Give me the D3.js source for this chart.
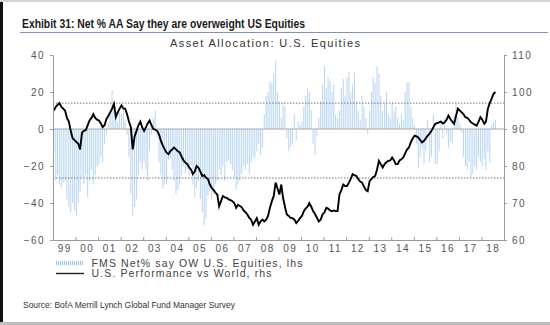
<!DOCTYPE html>
<html>
<head>
<meta charset="utf-8">
<script src="https://cdn.jsdelivr.net/npm/d3@7"></script>
<style>
  body { margin: 0; background: #fff; }
  svg { display: block; font-family: "Liberation Sans", Arial, sans-serif; }
  .tick text { fill: #555; font-size: 10px; letter-spacing: 1.4px; }
  .domain, .tick line { stroke: #9a9a9a; }
</style>
</head>
<body>
<div id="chart"></div>
<script>
// monthly series, Jan 1999 .. Aug 2018
var startYear = 1999;

// FMS net % saying overweight US equities (lhs)
var fmsNet = [
  -12, -28, -25, -30, -32, -29, -28, -38, -42, -45, -40, -44,
  -47, -40, -34, -26, -30, -25, -37, -28, -22, -30, -25, -20,
  -19, -15, -18, -8, -3, 3, 8, 21, 14, 6, 4, 9,
  8, 10, 5, -3, -15, -35, -47, -42, -38, -25, -18, -22,
  -18, -22, -28, -12, -3, 6, 10, -4, -18, -25, -32, -30,
  -30, -17, -16, -22, -28, -35, -33, -30, -25, -20, -24, -22,
  -25, -20, -30, -37, -32, -28, -38, -45, -52, -48, -36, -33,
  -38, -35, -30, -28, -22, -25, -20, -28, -18, -17, -19, -22,
  -26, -33, -30, -28, -24, -20, -22, -19, -24, -18, -15, -16,
  -12, -8, -14, -10, 8, 18, 20, 26, 25, 30, 37, 20,
  15, 6, 14, 12, -5, -12, -10, -8, 8, -6, 4, 2,
  4, 12, 18, 22, 20, 10, -8, -14, -4, 6, 15, 24,
  34, 22, 28, 26, 20, 24, 8, 6, 10, 22, 27, 18,
  28, 31, 20, 24, 31, 15, 10, 5, 18, 12, 6, -3,
  10, 20, 28, 25, 34, 30, 18, 10, 14, 20, 8, 6,
  14, 10, 12, 6, 3, 8, 5, 20, 25, 25, 12, 6,
  2, -8, -21, -15, -10, -19, -12, 5, -18, -15, 8, -19,
  -19, -12, 5, -5, 6, -3, -10, -7, -8, 8, 14, 6,
  3, -2, -15, -20, -22, -18, -26, -24, -20, -22, -15, -18,
  -20, -16, -22, -12, -18, 2, 4, 5
];

// US performance relative to world (rhs)
var usVsWorld = [
  95, 96, 96.5, 97, 96, 95.5, 95, 93, 92, 89.5, 87.5, 87,
  86.5, 86, 84.5, 89, 89.5, 89.7, 91, 92.3, 93, 94, 93, 92.5,
  92.3, 91.5, 90.5, 91, 92.7, 93.5, 94.5, 95.5, 96.8, 93.2, 94.5, 95.5,
  96.4, 95.5, 95.5, 94, 92, 90.5, 84.5, 88, 89.5, 91, 92, 90.5,
  89.5, 90.5, 91.5, 92.3, 91, 90, 89.8, 89.5, 88.5, 86.8, 85.5, 84.5,
  83.6, 83.2, 84, 84.5, 85, 84.5, 84, 83.7, 82.5, 81.5, 80.9, 80.5,
  79.6, 79, 77.8, 78.5, 80, 79.5, 78.5, 77.3, 77.5, 76.8, 76.5, 75,
  74.1, 73.5, 72.8, 72.3, 69.1, 70.5, 71.9, 71.5, 71.4, 71, 70.8, 70.5,
  70, 68.7, 69.5, 69.2, 68.9, 68, 67.5, 66.9, 66, 65.5, 64.1, 65,
  65.9, 64.1, 65, 65.5, 65, 65.5, 66.5, 68.7, 70.5, 71.9, 75.5, 74,
  72.3, 75, 71.4, 69, 66.9, 66.5, 66, 65.9, 65.5, 64.6, 65.2, 65.9,
  66.5, 67.8, 68.5, 69, 70, 69, 67.8, 67, 66, 65, 65.5, 66.9,
  67.5, 68.7, 68.5, 68, 67.8, 68, 67.8, 67.8, 72.3, 73.5, 75, 74.6,
  74.6, 75.5, 76.5, 77.8, 77.5, 77.3, 76.5, 75.8, 75.5, 74.5, 73.5, 73.2,
  75.9, 76.5, 77, 77.3, 79, 81.4, 80.5, 79.6, 80.5, 81, 81.4, 81.5,
  82.3, 81.5, 80.5, 80.5, 81.5, 81.8, 82.3, 83.5, 84.5, 85, 86.5, 87.5,
  88.2, 88, 87.7, 87, 86.4, 86.8, 87.5, 88.2, 88.8, 89.5, 90.5, 91.4,
  91.6, 91.8, 92, 91.5, 91.8, 92.5, 93.6, 92.7, 92, 91.4, 93.5, 95.5,
  95, 94.5, 94, 93.2, 93, 92.5, 91.8, 91.5, 91.2, 90.9, 92, 93.2,
  92.5, 91.4, 92, 95.5, 97, 98.2, 99.5, 100
];

// +/- one standard deviation bands of the survey series
var bandLines = [14, -26.5];

var yearLabels = ["99", "00", "01", "02", "03", "04", "05", "06", "07", "08", "09",
                  "10", "11", "12", "13", "14", "15", "16", "17", "18"];
var leftTicks = [-60, -40, -20, 0, 20, 40];
var rightTicks = [60, 70, 80, 90, 100, 110];

var svgWidth = 550;
var svgHeight = 325;
var plot = { left: 53, right: 504, top: 55, bottom: 240 };

var svg = d3.select("#chart")
  .append("svg")
  .attr("width", svgWidth)
  .attr("height", svgHeight);

// page frame
svg.append("rect").attr("x", 0).attr("y", 0).attr("width", 3).attr("height", svgHeight).attr("fill", "#111");
svg.append("rect").attr("x", 0).attr("y", 0).attr("width", svgWidth).attr("height", 2).attr("fill", "#d4d4d4");
svg.append("rect").attr("x", 0).attr("y", 322).attr("width", svgWidth).attr("height", 3).attr("fill", "#bdbdbd");

// title block
svg.append("text")
  .attr("x", 22)
  .attr("y", 28)
  .attr("font-family", "'Liberation Sans Narrow', 'Arial Narrow', 'Liberation Sans', sans-serif")
  .attr("font-weight", "bold")
  .attr("font-size", "12px")
  .attr("fill", "#1a1a1a")
  .attr("textLength", 283)
  .attr("lengthAdjust", "spacingAndGlyphs")
  .text("Exhibit 31: Net % AA Say they are overweight US Equities");

svg.append("line")
  .attr("x1", 20).attr("x2", 548)
  .attr("y1", 32.5).attr("y2", 32.5)
  .attr("stroke", "#8393ad")
  .attr("stroke-width", 1.2);

svg.append("text")
  .attr("x", 170)
  .attr("y", 47)
  .attr("font-size", "11px")
  .attr("fill", "#333")
  .attr("textLength", 190)
  .attr("lengthAdjust", "spacing")
  .text("Asset Allocation: U.S. Equities");

// scales
var months = fmsNet.map(function (d, i) {
  return new Date(startYear + Math.floor(i / 12), i % 12, 15);
});

var xScale = d3.scaleTime()
  .domain([new Date(1999, 0, 1), new Date(2019, 0, 1)])
  .range([plot.left, plot.right]);

var yLeft = d3.scaleLinear().domain([-60, 40]).range([plot.bottom, plot.top]);
var yRight = d3.scaleLinear().domain([60, 110]).range([plot.bottom, plot.top]);

// survey bars
svg.append("g")
  .selectAll("line")
  .data(fmsNet)
  .enter()
  .append("line")
  .attr("x1", (d, i) => xScale(months[i]))
  .attr("x2", (d, i) => xScale(months[i]))
  .attr("y1", yLeft(0))
  .attr("y2", d => yLeft(d))
  .attr("stroke", "#bdd8f2")
  .attr("stroke-width", 1.1);

// zero line
svg.append("line")
  .attr("x1", plot.left).attr("x2", plot.right)
  .attr("y1", yLeft(0)).attr("y2", yLeft(0))
  .attr("stroke", "#a8a8a8")
  .attr("stroke-width", 1);

// std dev bands
svg.append("g")
  .selectAll("line")
  .data(bandLines)
  .enter()
  .append("line")
  .attr("x1", plot.left).attr("x2", plot.right)
  .attr("y1", d => yLeft(d)).attr("y2", d => yLeft(d))
  .attr("stroke", "#777")
  .attr("stroke-width", 1)
  .attr("stroke-dasharray", "1.5,1.5");

// relative performance line
var line = d3.line()
  .x((d, i) => xScale(months[i]))
  .y(d => yRight(d));

svg.append("path")
  .datum(usVsWorld)
  .attr("d", line)
  .attr("fill", "none")
  .attr("stroke", "#000")
  .attr("stroke-width", 1.9)
  .attr("stroke-linejoin", "miter");

// axes
var leftAxis = d3.axisLeft(yLeft).tickValues(leftTicks).tickSize(3).tickSizeOuter(0).tickPadding(5);
svg.append("g")
  .attr("transform", `translate(${plot.left}, 0)`)
  .call(leftAxis)
  .selectAll("text").attr("text-anchor", "end");

var rightAxis = d3.axisRight(yRight).tickValues(rightTicks).tickSize(3).tickSizeOuter(0).tickPadding(5);
svg.append("g")
  .attr("transform", `translate(${plot.right}, 0)`)
  .call(rightAxis);

var yearStarts = d3.range(1999, 2020).map(y => new Date(y, 0, 1));
var bottomTicks = d3.axisBottom(xScale).tickValues(yearStarts).tickSize(-3).tickSizeOuter(0).tickFormat("");
svg.append("g")
  .attr("transform", `translate(0, ${plot.bottom})`)
  .call(bottomTicks);

var yearMids = yearLabels.map((d, i) => new Date(1999 + i, 6, 1));
var bottomLabels = d3.axisBottom(xScale).tickValues(yearMids).tickSize(0).tickPadding(5)
  .tickFormat((d, i) => yearLabels[i]);
var labelG = svg.append("g")
  .attr("transform", `translate(0, ${plot.bottom})`)
  .call(bottomLabels);
labelG.select(".domain").remove();

// legend
var pattern = svg.append("defs").append("pattern")
  .attr("id", "barSwatch")
  .attr("width", 2).attr("height", 4)
  .attr("patternUnits", "userSpaceOnUse");
pattern.append("rect").attr("width", 1).attr("height", 4).attr("fill", "#9cc3ec");

svg.append("rect")
  .attr("x", 56).attr("y", 261)
  .attr("width", 28).attr("height", 4)
  .attr("fill", "url(#barSwatch)");

svg.append("line")
  .attr("x1", 56).attr("x2", 84)
  .attr("y1", 273.5).attr("y2", 273.5)
  .attr("stroke", "#222")
  .attr("stroke-width", 1.4);

svg.append("text")
  .attr("x", 91.5).attr("y", 266.5)
  .attr("font-size", "10.5px")
  .attr("fill", "#444")
  .attr("textLength", 211)
  .attr("lengthAdjust", "spacing")
  .text("FMS Net% say OW U.S. Equities, lhs");

svg.append("text")
  .attr("x", 91.5).attr("y", 277)
  .attr("font-size", "10.5px")
  .attr("fill", "#444")
  .attr("textLength", 180)
  .attr("lengthAdjust", "spacing")
  .text("U.S. Performance vs World, rhs");

// source note
svg.append("text")
  .attr("x", 23).attr("y", 308)
  .attr("font-family", "'Liberation Sans Narrow', 'Arial Narrow', 'Liberation Sans', sans-serif")
  .attr("font-size", "9.5px")
  .attr("fill", "#333")
  .attr("textLength", 212)
  .attr("lengthAdjust", "spacingAndGlyphs")
  .text("Source: BofA Merrill Lynch Global Fund Manager Survey");
</script>
</body>
</html>
